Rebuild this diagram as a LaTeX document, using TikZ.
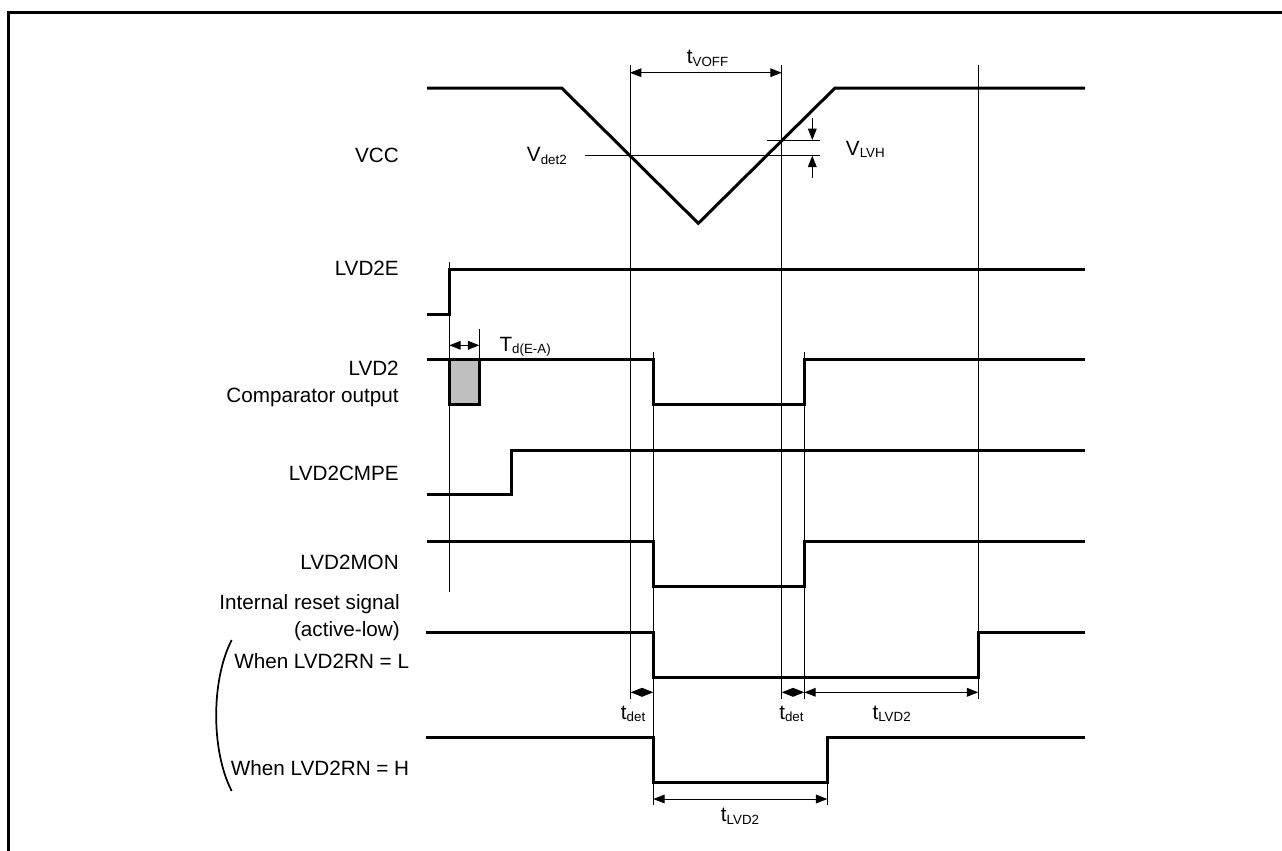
\documentclass[tikz,border=0pt]{standalone}
\usepackage{fontspec}
\setmainfont{Liberation Sans}
\usetikzlibrary{arrows.meta}
\tikzset{sig/.style={line width=2.25pt, line join=miter}}
\tikzset{guide/.style={line width=0.75pt}}
\tikzset{dim/.style={line width=0.75pt, {Triangle[length=8.5pt,width=6.5pt]}-{Triangle[length=8.5pt,width=6.5pt]}}}
\tikzset{onehead/.style={line width=0.75pt, -{Triangle[length=8.5pt,width=6.5pt]}}}
\tikzset{lbl/.style={anchor=base east, inner sep=0pt, font=\fontsize{15.5}{18}\selectfont}}
\tikzset{note/.style={anchor=base west, inner sep=0pt, font=\fontsize{15.5}{18}\selectfont}}
\newcommand{\subtxt}[1]{\raisebox{-2.2pt}{\fontsize{10}{12}\selectfont #1}}

\begin{document}
\begin{tikzpicture}[x=0.75pt, y=-0.75pt]

    \useasboundingbox (0,0) rectangle (1282,850);
    \draw[line width=2.25pt] (8.3,851) -- (8.3,12.7) -- (1283,12.7);

    % signal names
    \node[lbl] (vcc)   at (399,162)   {VCC};
    \node[lbl] (en)    at (399,275)   {LVD2E};
    \node[lbl] (cmp)   at (399,375)   {LVD2};
    \node[lbl] (cmpb)  at (399,402)   {Comparator output};
    \node[lbl] (cmpe)  at (399,480)   {LVD2CMPE};
    \node[lbl] (mon)   at (399,569.3) {LVD2MON};
    \node[lbl] (rst)   at (400,609)   {Internal reset signal};
    \node[lbl] (rstb)  at (400,636.5) {(active-low)};
    \node[note] (rnl)  at (234,668)   {When LVD2RN = L};
    \node[note] (rnh)  at (230.7,775) {When LVD2RN = H};
    \draw[line width=1.3pt] (231.7,640) .. controls (211,680) and (211,751) .. (231.7,791);

    % time marks
    \draw[guide] (630,65) -- (630,699);
    \draw[guide] (781.7,65) -- (781.7,699);
    \draw[guide] (978.3,65) -- (978.3,699);
    \draw[guide] (449.3,262) -- (449.3,592);
    \draw[guide] (479.3,329) -- (479.3,359);
    \draw[guide] (653.3,352) -- (653.3,805);
    \draw[guide] (804.3,352) -- (804.3,699);
    \draw[guide] (827.3,737) -- (827.3,805);

    % levels
    \draw[guide] (585,155.7) -- (820,155.7);
    \draw[guide] (766.7,140) -- (820,140);

    % waveforms
    \draw[sig] (427,88) -- (561.7,88) -- (698.3,223.3) -- (835,88) -- (1085,88);
    \draw[sig] (427,314) -- (449.3,314) -- (449.3,269) -- (1085,269);
    \fill[gray!50] (449.3,359.3) rectangle (479.3,404.3);
    \draw[sig] (449.3,359.3) -- (449.3,404.3) -- (479.3,404.3) -- (479.3,359.3);
    \draw[sig] (427,359.3) -- (653.3,359.3) -- (653.3,404.3) -- (804.3,404.3) -- (804.3,359.3) -- (1085,359.3);
    \draw[sig] (427,494) -- (511,494) -- (511,450) -- (1085,450);
    \draw[sig] (427,541) -- (653.3,541) -- (653.3,586) -- (804.3,586) -- (804.3,541) -- (1085,541);
    \draw[sig] (425.7,632.3) -- (653.3,632.3) -- (653.3,677.3) -- (978.3,677.3) -- (978.3,632.3) -- (1085,632.3);
    \draw[sig] (425.7,737.3) -- (653.3,737.3) -- (653.3,782.7) -- (827.3,782.7) -- (827.3,737.3) -- (1085,737.3);

    % dimensions
    \coordinate (voffA) at (630,72.7);    \coordinate (voffB) at (781.7,72.7);
    \coordinate (tdA) at (449.3,345.3);   \coordinate (tdB) at (479.3,345.3);
    \coordinate (detA) at (630.7,692.3);  \coordinate (detB) at (653.3,692.3);
    \coordinate (detC) at (781.7,692.3);  \coordinate (detD) at (804.3,692.3);
    \coordinate (lvdA) at (978.3,692.3);
    \coordinate (lvdC) at (653.3,799);    \coordinate (lvdD) at (827.3,799);
    \coordinate (lvhA) at (812.3,118);    \coordinate (lvhB) at (812.3,140);
    \coordinate (lvhC) at (812.3,178);    \coordinate (lvhD) at (812.3,155.7);

    \draw[dim] (voffA) -- (voffB);
    \draw[dim] (tdA) -- (tdB);
    \draw[dim] (detA) -- (detB);
    \draw[dim] (detC) -- (detD);
    \draw[dim] (detD) -- (lvdA);
    \draw[dim] (lvdC) -- (lvdD);
    \draw[onehead] (lvhA) -- (lvhB);
    \draw[onehead] (lvhC) -- (lvhD);

    \node[note] (voff) at (686.7,63.3) {t\subtxt{VOFF}};
    \node[note] (vdet) at (526.7,161.7) {V\subtxt{det2}};
    \node[note] (vlvh) at (845.7,155) {V\subtxt{LVH}};
    \node[note] (tdea) at (499.3,351) {T\subtxt{d(E-A)}};
    \node[note] (det1) at (620.7,719) {t\subtxt{det}};
    \node[note] (det2) at (779,719) {t\subtxt{det}};
    \node[note] (lvd1) at (872.3,719) {t\subtxt{LVD2}};
    \node[note] (lvd2) at (720.7,821.7) {t\subtxt{LVD2}};

\end{tikzpicture}
\end{document}
